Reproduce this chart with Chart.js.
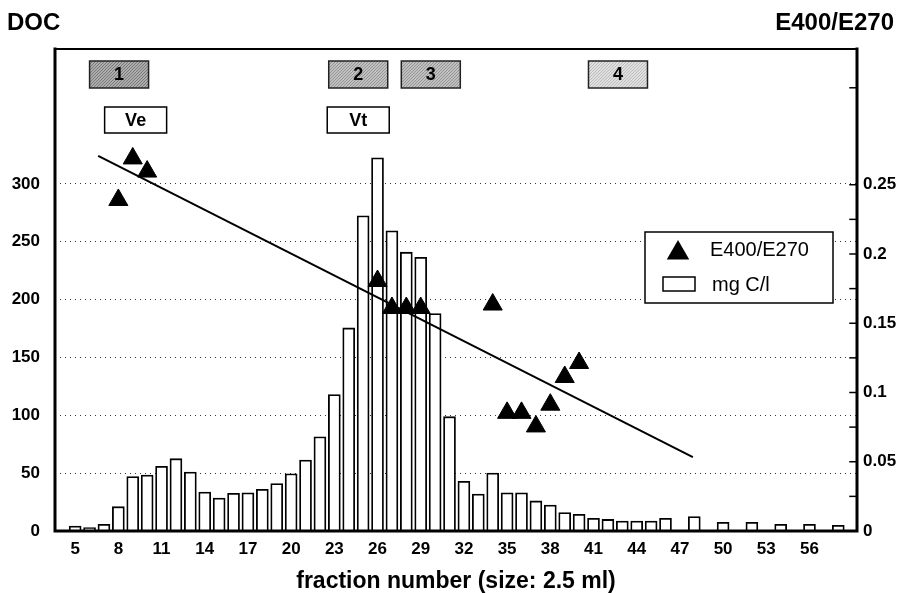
<!DOCTYPE html>
<html><head><meta charset="utf-8">
<script src="https://cdn.jsdelivr.net/npm/chart.js@4"></script>
<style>html,body{margin:0;padding:0;background:#fff}#wrap{width:901px;height:593px}</style>
</head><body><div id="wrap"><canvas id="c" width="901" height="593"></canvas></div>
<script>
// ---- data ----
const fractions = [5,6,7,8,9,10,11,12,13,14,15,16,17,18,19,20,21,22,23,24,25,26,27,28,29,30,31,32,33,34,35,36,37,38,39,40,41,42,43,44,45,46,48,50,52,54,56,58];
const docValues = [4.3,2.9,5.8,21,47,48.4,56,62.5,51,33.7,28.5,32.6,33,36,41,49.5,61.4,81.5,118,175.5,272.5,322.6,259.5,241,236.5,188,98.8,43,32,50,33,33,26,22.5,16,14.4,11,10,8.6,8.6,8.6,11,12.4,7.5,7.5,5.8,5.8,4.9];
const ratioFractions = [8,9,10,26,27,28,29,34,35,36,37,38,39,40];
const ratioValues = [0.239,0.269,0.2595,0.1805,0.161,0.161,0.161,0.1635,0.0853,0.0853,0.0755,0.0912,0.1112,0.1213];
const trendFractions = [6.6,47.9];
const trendValues = [0.2708,0.0534];
const xTickValues = [5,8,11,14,17,20,23,26,29,32,35,38,41,44,47,50,53,56];
const leftTickValues = [0,50,100,150,200,250,300];
const rightTickValues = [0,0.025,0.05,0.075,0.1,0.125,0.15,0.175,0.2,0.225,0.25,0.32];
const rightLabelValues = [0,0.05,0.1,0.15,0.2,0.25];
const zoneLabels = ['1','2','3','4'];
const zoneFractions = [8.05,24.66,29.7,42.7];
const markerLabels = ['Ve','Vt'];
const markerFractions = [9.2,24.66];
const leftTitle = 'DOC';
const rightTitle = 'E400/E270';
const xTitle = 'fraction number (size: 2.5 ml)';

const FAM = "'Liberation Sans', Arial, Helvetica, sans-serif";
const zoneShades = [['#7a7a7a','#acacac'],['#969696','#c0c0c0'],['#969696','#c0c0c0'],['#bcbcbc','#e0e0e0']];

function stipple(ctx, dark, light) {
  const c = document.createElement('canvas');
  c.width = 3; c.height = 3;
  const g = c.getContext('2d');
  g.fillStyle = light; g.fillRect(0, 0, 3, 3);
  g.fillStyle = dark;
  g.fillRect(0, 0, 1, 1); g.fillRect(2, 1, 1, 1); g.fillRect(1, 2, 1, 1);
  return ctx.createPattern(c, 'repeat');
}

const decor = {
  id: 'decor',
  afterDraw(chart) {
    const {ctx, chartArea: a, scales} = chart;
    const xs = scales.x, y2 = scales.y2;
    ctx.save();
    ctx.strokeStyle = '#000';
    ctx.lineCap = 'square';
    // frame
    ctx.lineWidth = 2;
    ctx.beginPath(); ctx.moveTo(a.left, a.top); ctx.lineTo(a.right, a.top); ctx.stroke();
    ctx.lineWidth = 3;
    ctx.beginPath(); ctx.moveTo(a.left, a.top); ctx.lineTo(a.left, a.bottom); ctx.lineTo(a.right, a.bottom); ctx.lineTo(a.right, a.top); ctx.stroke();
    // right axis inward ticks
    ctx.lineWidth = 1.5;
    y2.ticks.forEach(t => {
      const y = y2.getPixelForValue(t.value);
      if (y < a.top + 2) return;
      ctx.beginPath(); ctx.moveTo(a.right - 7, y); ctx.lineTo(a.right, y); ctx.stroke();
    });
    // zone boxes
    ctx.textAlign = 'center'; ctx.textBaseline = 'middle';
    zoneLabels.forEach((lab, i) => {
      const cx = xs.getPixelForValue(zoneFractions[i]);
      const w = 59, h = 27, top = a.top + 12;
      ctx.fillStyle = stipple(ctx, zoneShades[i][0], zoneShades[i][1]);
      ctx.fillRect(cx - w/2, top, w, h);
      ctx.lineWidth = 1.5; ctx.strokeStyle = '#222';
      ctx.strokeRect(cx - w/2, top, w, h);
      ctx.fillStyle = '#000';
      ctx.font = 'bold 18px ' + FAM;
      ctx.fillText(lab, cx, top + h/2 + 1);
    });
    markerLabels.forEach((lab, i) => {
      const cx = xs.getPixelForValue(markerFractions[i]);
      const w = 62, h = 26, top = a.top + 58;
      ctx.fillStyle = '#fff';
      ctx.fillRect(cx - w/2, top, w, h);
      ctx.lineWidth = 1.5; ctx.strokeStyle = '#000';
      ctx.strokeRect(cx - w/2, top, w, h);
      ctx.fillStyle = '#000';
      ctx.font = 'bold 18px ' + FAM;
      ctx.fillText(lab, cx, top + h/2 + 1);
    });
    // legend
    const lx = a.right - 212, ly = a.top + 183, lw = 188, lh = 71;
    ctx.fillStyle = '#fff'; ctx.fillRect(lx, ly, lw, lh);
    ctx.lineWidth = 1.5; ctx.strokeStyle = '#000'; ctx.strokeRect(lx, ly, lw, lh);
    const ds = chart.data.datasets;
    const tx = lx + 33, ty = ly + 21, r = 13;
    ctx.fillStyle = '#000';
    ctx.beginPath();
    ctx.moveTo(tx, ty - r);
    ctx.lineTo(tx + r * Math.sin(Math.PI/3), ty + r/2);
    ctx.lineTo(tx - r * Math.sin(Math.PI/3), ty + r/2);
    ctx.closePath(); ctx.fill();
    ctx.textAlign = 'left';
    ctx.font = '20px ' + FAM;
    ctx.fillText(ds[0].label, lx + 65, ly + 18);
    ctx.fillStyle = '#fff';
    ctx.fillRect(lx + 18, ly + 45, 32, 14);
    ctx.lineWidth = 1.5; ctx.strokeRect(lx + 18, ly + 45, 32, 14);
    ctx.fillStyle = '#000';
    ctx.fillText(ds[2].label, lx + 67, ly + 53);
    // top titles
    ctx.font = 'bold 24px ' + FAM;
    ctx.textAlign = 'left';
    ctx.fillText(leftTitle, 7, 23);
    ctx.textAlign = 'right';
    ctx.fillText(rightTitle, 894, 23);
    ctx.restore();
  }
};

const tickFont = {family: FAM, size: 17, weight: 'bold'};

new Chart(document.getElementById('c'), {
  data: {
    datasets: [
      { type: 'scatter', label: 'E400/E270',
        data: ratioFractions.map((f, i) => ({x: f, y: ratioValues[i]})),
        yAxisID: 'y2', pointStyle: 'triangle', pointRadius: 11,
        pointBackgroundColor: '#000', pointBorderColor: '#000', pointBorderWidth: 1, order: 0 },
      { type: 'line', label: 'trend',
        data: trendFractions.map((f, i) => ({x: f, y: trendValues[i]})),
        yAxisID: 'y2', borderColor: '#000', borderWidth: 2, pointRadius: 0, fill: false, order: 1 },
      { type: 'bar', label: 'mg C/l',
        data: fractions.map((f, i) => ({x: f, y: docValues[i]})),
        yAxisID: 'y', backgroundColor: '#fff', borderColor: '#000', borderWidth: 1.8,
        barThickness: 12, borderSkipped: 'bottom', order: 2 }
    ]
  },
  options: {
    responsive: false, animation: false, devicePixelRatio: 1, events: [],
    layout: {padding: {top: 49, left: 0, right: 0, bottom: 0}},
    plugins: {legend: {display: false}, tooltip: {enabled: false}},
    scales: {
      x: { type: 'linear', min: 3.6, max: 59.3, offset: false,
        afterBuildTicks: s => { s.ticks = xTickValues.map(v => ({value: v})); },
        ticks: {font: tickFont, color: '#000', padding: 8, autoSkip: false, maxRotation: 0, callback: v => String(v)},
        grid: {display: false, drawTicks: false, offset: false}, border: {display: false},
        title: {display: true, text: xTitle, color: '#000', padding: 0,
                font: {family: FAM, size: 23, weight: 'bold', lineHeight: 1}},
        afterFit: s => { s.height = 62; } },
      y: { position: 'left', min: 0, max: 416.6,
        afterBuildTicks: s => { s.ticks = leftTickValues.map(v => ({value: v})); },
        ticks: {font: tickFont, color: '#000', padding: 15},
        grid: {color: '#333', lineWidth: 1, drawTicks: false},
        border: {display: false, dash: [1, 4]},
        afterFit: s => { s.width = 55; } },
      y2: { position: 'right', min: 0, max: 0.348,
        afterBuildTicks: s => { s.ticks = rightTickValues.map(v => ({value: v})); },
        ticks: {font: tickFont, color: '#000', padding: 6,
                callback: v => rightLabelValues.includes(v) ? String(v) : ''},
        grid: {display: false, drawTicks: false}, border: {display: false},
        afterFit: s => { s.width = 44; } }
    }
  },
  plugins: [decor]
});
</script>
</body></html>
